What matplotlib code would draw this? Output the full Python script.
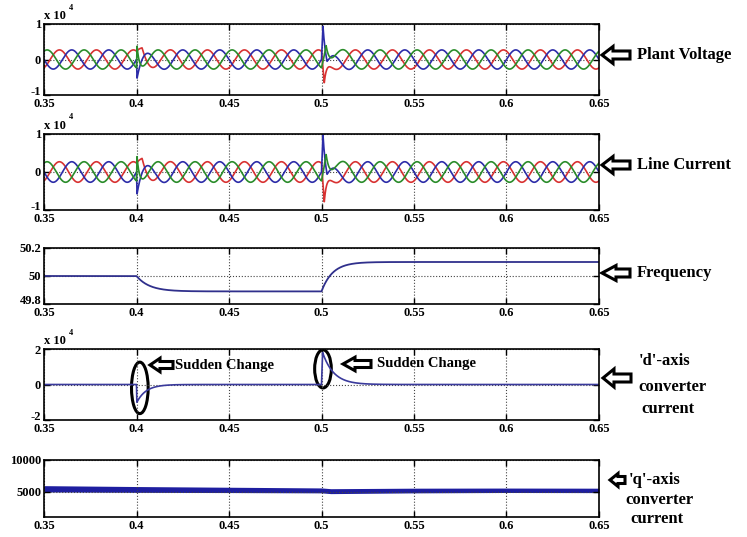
import numpy as np
import matplotlib.pyplot as plt
import matplotlib.transforms as mtransforms
from matplotlib.patches import Ellipse, Polygon

plt.rcParams['font.family'] = ['Liberation Serif', 'DejaVu Serif']
plt.rcParams['font.weight'] = 'bold'
plt.rcParams['font.size'] = 9

W, H = 747, 537

# ---- data ----
x_ticks = [0.35, 0.4, 0.45, 0.5, 0.55, 0.6, 0.65]
x_labels = ['0.35', '0.4', '0.45', '0.5', '0.55', '0.6', '0.65']

f_grid = 50.0                      # Hz
phase_deg = [120, 0, -120]         # red, blue, green
phase_colors = ['#d83232', '#2c2ca8', '#2a8c2a']
v_amp = 2700
i_amp = 2700
# transient pulses: (time, phase index, peak, rise time, decay time)
v_pulses = [(0.400, 1, -5500, 0.0003, 0.003),
            (0.400, 2, 6200, 0.0003, 0.0012),
            (0.400, 0, 3000, 0.003, 0.003),
            (0.500, 1, 10000, 0.0008, 0.0015),
            (0.500, 1, -5000, 0.003, 0.003),
            (0.500, 0, -8000, 0.0015, 0.0015),
            (0.500, 2, 6500, 0.0025, 0.002)]
i_pulses = [(0.400, 1, -6000, 0.0003, 0.003),
            (0.400, 2, 6500, 0.0003, 0.0012),
            (0.400, 0, 3300, 0.003, 0.003),
            (0.500, 1, 10500, 0.0008, 0.0015),
            (0.500, 1, -5200, 0.003, 0.003),
            (0.500, 0, -9300, 0.0015, 0.0015),
            (0.500, 2, 7200, 0.0025, 0.002)]

freq_change_t = [0.40, 0.50]
freq_levels = [50.0, 49.89, 50.10]
freq_tau = [0.007, 0.006]

d_event_t = [0.40, 0.50]
d_peak = [-10000, 18000]
d_rise = [0.0002, 0.0006]
d_decay = [0.005, 0.006]

q_t = [0.35, 0.40, 0.45, 0.50, 0.505, 0.55, 0.60, 0.65]
q_val = [5450, 5350, 5280, 5200, 5080, 5180, 5220, 5200]
q_spread = [500, 460, 420, 390, 390, 370, 350, 350]

t = np.linspace(0.35, 0.65, 6001)


def pulse(te, peak, rise, decay):
    dt = t - te
    out = np.zeros_like(t)
    up = (dt >= 0) & (dt < rise)
    out[up] = peak * dt[up] / rise
    down = dt >= rise
    out[down] = peak * np.exp(-(dt[down] - rise) / decay)
    return out


def three_phase(amp, pulses):
    waves = [amp * np.sin(2 * np.pi * f_grid * t + np.deg2rad(ph))
             for ph in phase_deg]
    for te, k, peak, rise, decay in pulses:
        waves[k] = waves[k] + pulse(te, peak, rise, decay)
    return waves


def frequency():
    f = np.full_like(t, freq_levels[0])
    for i, te in enumerate(freq_change_t):
        start = f[np.searchsorted(t, te)]
        m = t >= te
        f[m] = freq_levels[i + 1] + (start - freq_levels[i + 1]) * \
            np.exp(-(t[m] - te) / freq_tau[i])
    return f


def d_current():
    d = np.zeros_like(t)
    for te, pk, r, dc in zip(d_event_t, d_peak, d_rise, d_decay):
        d += pulse(te, pk, r, dc)
    return d


# ---- figure ----
fig = plt.figure(figsize=(W / 100, H / 100), dpi=100)


def add_axes(top, bottom):
    ax = fig.add_axes([44 / W, 1 - bottom / H, (599 - 44) / W, (bottom - top) / H])
    ax.set_xlim(0.35, 0.65)
    ax.set_xticks(x_ticks, labels=x_labels)
    ax.tick_params(direction='in', top=True, right=True, length=4,
                   width=1, labelsize=9, pad=2)
    ax.grid(True, color='#444444', linestyle=':', linewidth=0.8)
    for s in ax.spines.values():
        s.set_linewidth(1.2)
    return ax


def lift_bottom_label(ax):
    # the lowest y label sits just above the first x label, as in the original
    lab = ax.get_yticklabels()[0]
    lab.set_transform(lab.get_transform() +
                      mtransforms.ScaledTranslation(0, 3 / 72, fig.dpi_scale_trans))


def exp_label(ax):
    ax.text(0.0, 1.03, 'x 10', transform=ax.transAxes, fontsize=9,
            ha='left', va='bottom')
    ax.text(0.045, 1.17, '4', transform=ax.transAxes, fontsize=6,
            ha='left', va='bottom')


def px(x, y):
    return x / 100, (H - y) / 100


def hollow_arrow(x_tip, y, length=28, head_len=11, head_h=17, tail_h=8):
    xs = [x_tip, x_tip + head_len, x_tip + head_len, x_tip + length,
          x_tip + length, x_tip + head_len, x_tip + head_len]
    ys = [y, y - head_h / 2, y - tail_h / 2, y - tail_h / 2,
          y + tail_h / 2, y + tail_h / 2, y + head_h / 2]
    pts = [px(a, b) for a, b in zip(xs, ys)]
    fig.add_artist(Polygon(pts, closed=True, transform=fig.dpi_scale_trans,
                           fc='white', ec='black', lw=2.2, joinstyle='miter'))


def label(x, y, s, size=12):
    fig.text(x / W, 1 - y / H, s, fontsize=size, ha='left', va='center',
             fontweight='bold')


# plant voltage
ax1 = add_axes(24, 95)
for w, c in zip(three_phase(v_amp, v_pulses), phase_colors):
    ax1.plot(t, w, color=c, lw=1.2)
ax1.set_ylim(-10000, 10000)
ax1.set_yticks([-10000, 0, 10000], labels=['-1', '0', '1'])
exp_label(ax1)

# line current
ax2 = add_axes(134, 210)
for w, c in zip(three_phase(i_amp, i_pulses), phase_colors):
    ax2.plot(t, w, color=c, lw=1.2)
ax2.set_ylim(-10000, 10000)
ax2.set_yticks([-10000, 0, 10000], labels=['-1', '0', '1'])
exp_label(ax2)

# frequency
ax3 = add_axes(248, 304)
ax3.plot(t, frequency(), color='#30308c', lw=1.3)
ax3.set_ylim(49.8, 50.2)
ax3.set_yticks([49.8, 50, 50.2], labels=['49.8', '50', '50.2'])

# d-axis current
ax4 = add_axes(349, 420)
ax4.plot(t, d_current(), color='#3a3a9c', lw=1.2)
ax4.set_ylim(-20000, 20000)
ax4.set_yticks([-20000, 0, 20000], labels=['-2', '0', '2'])
exp_label(ax4)
ax4.add_patch(Ellipse((0.4018, -1900), 0.009, 29000, fill=False,
                      ec='black', lw=2.2))
ax4.add_patch(Ellipse((0.5008, 8800), 0.009, 21500, fill=False,
                      ec='black', lw=2.2))

# q-axis current
ax5 = add_axes(460, 517)
q_lo = [v - s for v, s in zip(q_val, q_spread)]
q_hi = [v + s for v, s in zip(q_val, q_spread)]
ax5.fill_between(q_t, q_lo, q_hi, color='#1e1ea0', lw=0)
ax5.plot(q_t, q_val, color='#1e1ea0', lw=1)
ax5.set_ylim(1000, 10000)
ax5.set_yticks([5000, 10000], labels=['5000', '10000'])

for ax in (ax1, ax2, ax3, ax4):
    lift_bottom_label(ax)

# annotations
hollow_arrow(602, 55, head_h=17)
label(637, 55, 'Plant Voltage')
hollow_arrow(602, 165, head_h=17)
label(637, 165, 'Line Current')
hollow_arrow(602, 273, head_len=14, head_h=15)
label(637, 273, 'Frequency')
hollow_arrow(603, 378, head_h=18)
label(639, 361, "'d'-axis")
label(638, 387, 'converter')
label(641, 409, 'current')
hollow_arrow(610, 480, length=15, head_len=8, head_h=13, tail_h=7)
label(629, 480, "'q'-axis")
label(625, 500, 'converter')
label(630, 519, 'current')
hollow_arrow(150, 365, length=23, head_len=10, head_h=13.5, tail_h=7)
label(175, 365, 'Sudden Change', size=10.5)
hollow_arrow(343, 364, length=28, head_len=12, head_h=13.5, tail_h=7)
label(377, 364, 'Sudden Change', size=10.5)

fig.savefig('out.png', dpi=100)
